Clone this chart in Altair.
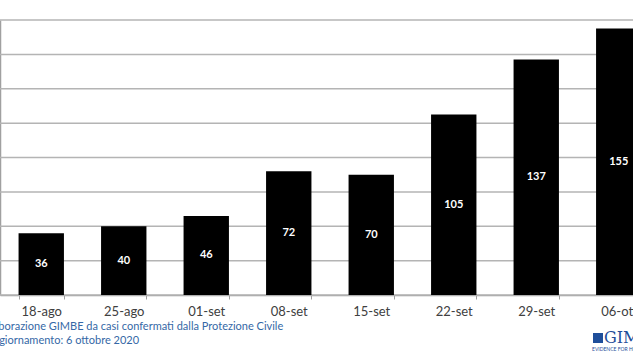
import altair as alt
import pandas as pd

dates = ["18-ago", "25-ago", "01-set", "08-set", "15-set", "22-set", "29-set", "06-ott"]
values = [36, 40, 46, 72, 70, 105, 137, 155]
y_ticks = [0, 20, 40, 60, 80, 100, 120, 140, 160]
source_lines = ["Elaborazione GIMBE da casi confermati dalla Protezione Civile",
                "Aggiornamento: 6 ottobre 2020"]

df = pd.DataFrame({"data": dates, "casi": values})
df["mid"] = df["casi"] / 2
grid_df = pd.DataFrame({"v": y_ticks})

FONT = "Lato"
BLUE = "#3568a6"

x_scale = alt.Scale(range=[0, 660], paddingInner=0.45, paddingOuter=0.225)
x_axis = alt.Axis(title=None, labelAngle=0, labelFont=FONT, labelFontSize=13,
                  labelColor="#404040", labelPadding=6, tickBand="extent",
                  ticks=True, tickSize=4, tickColor="#a0a0a0",
                  domainColor="#a0a0a0", domainWidth=1.5, grid=False)
y_scale = alt.Scale(domain=[0, 160], nice=False)
y_axis = alt.Axis(title=None, labels=False, ticks=False, grid=False,
                  domainColor="#a0a0a0", domainWidth=1.5)

grid = alt.Chart(grid_df).mark_rule(color="#b4b4b4", strokeWidth=1.5).encode(
    y=alt.Y("v:Q", scale=y_scale, axis=y_axis),
)

bars = alt.Chart(df).mark_bar(color="black").encode(
    x=alt.X("data:N", sort=dates, scale=x_scale, axis=x_axis),
    y=alt.Y("casi:Q", scale=y_scale, axis=y_axis),
)

labels = alt.Chart(df).mark_text(color="white", font=FONT, fontWeight="bold",
                                 fontSize=11, baseline="middle").encode(
    x=alt.X("data:N", sort=dates, scale=x_scale, axis=x_axis),
    y=alt.Y("mid:Q", scale=y_scale, axis=y_axis),
    text=alt.Text("casi:Q"),
)

src1 = alt.Chart(pd.DataFrame({"t": [source_lines[0]]})).mark_text(
    align="left", baseline="middle", font=FONT, fontSize=11, color=BLUE
).encode(x=alt.value(-16), y=alt.value(307), text="t:N")
src2 = alt.Chart(pd.DataFrame({"t": [source_lines[1]]})).mark_text(
    align="left", baseline="middle", font=FONT, fontSize=11, color=BLUE
).encode(x=alt.value(-14), y=alt.value(321), text="t:N")

logo_box = alt.Chart(pd.DataFrame({"a": [0]})).mark_rect(color="#1f4e9a").encode(
    x=alt.value(593), x2=alt.value(603), y=alt.value(313), y2=alt.value(323))
logo_txt = alt.Chart(pd.DataFrame({"t": ["GIMBE"]})).mark_text(
    align="left", baseline="middle", font="DejaVu Serif", fontSize=16, color="#1f4e9a"
).encode(x=alt.value(604), y=alt.value(318), text="t:N")
logo_sub = alt.Chart(pd.DataFrame({"t": ["EVIDENCE FOR HEALTH"]})).mark_text(
    align="left", baseline="middle", font=FONT, fontSize=5, color="#1f4e9a"
).encode(x=alt.value(592), y=alt.value(329), text="t:N")

chart = alt.layer(grid, bars, labels, src1, src2, logo_box, logo_txt, logo_sub).properties(
    width=633, height=275,
    autosize=alt.AutoSizeParams(type="none"),
    padding={"left": 0, "top": 20, "right": 0, "bottom": 65},
    background="white",
).configure_view(stroke=None)

chart.save("out.html", embed_options={"renderer": "svg", "actions": False})
